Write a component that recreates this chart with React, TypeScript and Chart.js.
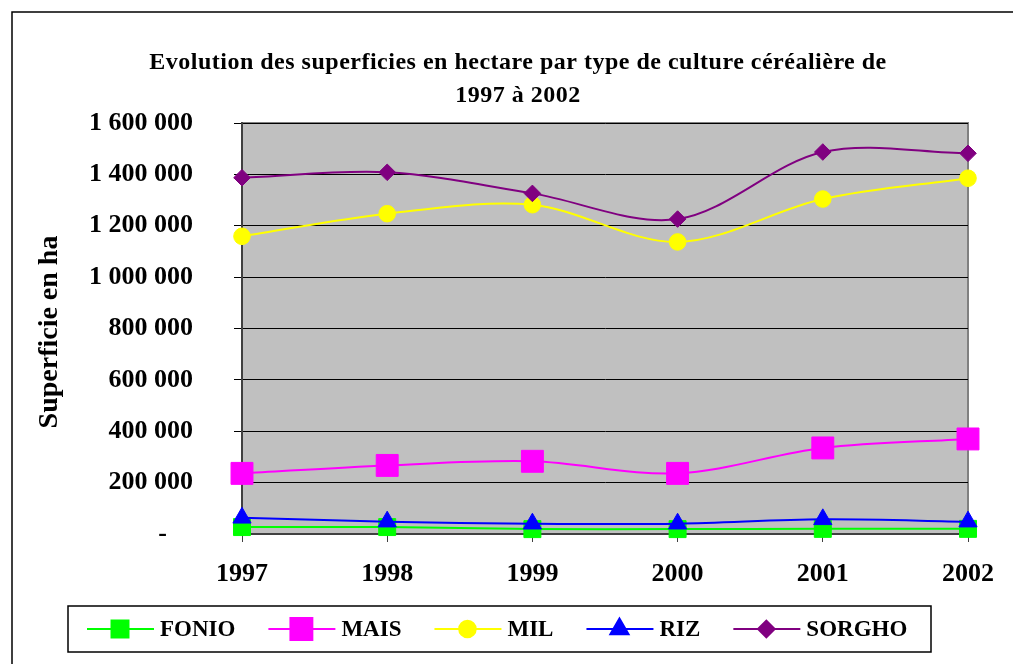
import React, { useEffect, useRef } from 'react';
import { Chart, registerables } from 'chart.js';
import { drawPoint } from 'chart.js/helpers';

Chart.register(...registerables);

const years = ['1997', '1998', '1999', '2000', '2001', '2002'];
const fonio = [27000, 27000, 19000, 19000, 20000, 20000];
const mais = [236000, 267000, 283000, 236000, 335000, 370000];
const mil = [1159000, 1247000, 1282000, 1137000, 1304000, 1385000];
const riz = [63000, 48000, 40000, 40000, 57000, 48000];
const sorgho = [1387000, 1408000, 1326000, 1226000, 1487000, 1482000];

const titleLines = ['Evolution des superficies en hectare par type de culture céréalière de', '1997 à 2002'];
const yTitle = 'Superficie en ha';

const FONT = "'Liberation Serif', 'Times New Roman', serif";

const fmt = (v: number) => {
  if (v === 0) return '-    ';
  return String(Math.round(v)).replace(/\B(?=(\d{3})+(?!\d))/g, ' ');
};

const series = [
  { label: 'FONIO', data: fonio, color: '#00ff00', style: 'rect', radius: 12, order: 5 },
  { label: 'MAIS', data: mais, color: '#ff00ff', style: 'rect', radius: 15.5, order: 4 },
  { label: 'MIL', data: mil, color: '#ffff00', style: 'circle', radius: 8.3, order: 3 },
  { label: 'RIZ', data: riz, color: '#0000ff', style: 'triangle', radius: 10.5, order: 2 },
  { label: 'SORGHO', data: sorgho, color: '#800080', style: 'rectRot', radius: 8.3, order: 1 },
];

const framePlugin = {
  id: 'frame',
  beforeDraw(chart: any) {
    const { ctx, chartArea: a } = chart;
    ctx.save();
    ctx.fillStyle = '#ffffff';
    ctx.fillRect(0, 0, chart.width, chart.height);
    ctx.strokeStyle = '#000';
    ctx.lineWidth = 1.5;
    ctx.beginPath();
    ctx.moveTo(12, chart.height + 5);
    ctx.lineTo(12, 12);
    ctx.lineTo(chart.width + 5, 12);
    ctx.stroke();
    ctx.fillStyle = '#c0c0c0';
    ctx.fillRect(a.left, a.top, a.width, a.height);
    ctx.strokeStyle = '#808080';
    ctx.lineWidth = 2;
    ctx.strokeRect(a.left, a.top, a.width, a.height);
    ctx.restore();
  },
  afterDraw(chart: any) {
    const { ctx } = chart;
    ctx.save();
    // title
    ctx.fillStyle = '#000';
    ctx.textAlign = 'center';
    ctx.textBaseline = 'alphabetic';
    ctx.font = `bold 24px ${FONT}`;
    (ctx as any).letterSpacing = '0.5px';
    ctx.fillText(titleLines[0], 518, 69);
    ctx.fillText(titleLines[1], 518, 102);
    (ctx as any).letterSpacing = '0px';
    // y title
    ctx.save();
    ctx.translate(57, 332);
    ctx.rotate(-Math.PI / 2);
    ctx.font = `bold 28px ${FONT}`;
    ctx.textAlign = 'center';
    ctx.textBaseline = 'alphabetic';
    ctx.fillText(yTitle, 0, 0);
    ctx.restore();
    // legend
    const lx = 68, ly = 606, lw = 863, lh = 46;
    ctx.strokeStyle = '#000';
    ctx.lineWidth = 1.5;
    ctx.strokeRect(lx, ly, lw, lh);
    ctx.font = `bold 23px ${FONT}`;
    ctx.textAlign = 'left';
    ctx.textBaseline = 'middle';
    let x = 87;
    const cy = 629;
    series.forEach((s) => {
      ctx.strokeStyle = s.color;
      ctx.lineWidth = 2;
      ctx.beginPath();
      ctx.moveTo(x, cy);
      ctx.lineTo(x + 67, cy);
      ctx.stroke();
      ctx.fillStyle = s.color;
      drawPoint(ctx, { pointStyle: s.style, radius: s.radius, rotation: 0, borderWidth: 1 }, x + 33, cy);
      ctx.fill();
      ctx.fillStyle = '#000';
      const tx = x + 73;
      ctx.fillText(s.label, tx, cy + 1);
      x = tx + ctx.measureText(s.label).width + 33;
    });
    ctx.restore();
  },
};

export default function App() {
  const ref = useRef<HTMLCanvasElement | null>(null);
  useEffect(() => {
    if (!ref.current) return;
    const chart = new Chart(ref.current, {
      type: 'line',
      data: {
        labels: years,
        datasets: series.map((s) => ({
          label: s.label,
          data: s.data,
          borderColor: s.color,
          backgroundColor: s.color,
          borderWidth: 2,
          tension: 0.33,
          pointStyle: s.style as any,
          pointRadius: s.radius,
          pointBorderWidth: 1,
          pointBorderColor: s.color,
          pointBackgroundColor: s.color,
          order: s.order,
          clip: false as any,
          fill: false,
        })),
      },
      options: {
        responsive: false,
        animation: false,
        layout: { padding: { left: 0, top: 123, right: 45, bottom: 0 } },
        plugins: {
          legend: { display: false },
          title: { display: false },
          tooltip: { enabled: false },
        },
        scales: {
          x: {
            type: 'category',
            offset: false,
            afterFit: (scale: any) => { scale.height = 130; },
            grid: { drawOnChartArea: false, drawTicks: true, tickLength: 8, color: '#404040', lineWidth: 1 },
            border: { color: '#404040', width: 2 },
            ticks: { color: '#000', font: { family: FONT, size: 26, weight: 'bold' }, padding: 17, maxRotation: 0 },
          },
          y: {
            min: 0,
            max: 1600000,
            afterFit: (scale: any) => { scale.width = 242; },
            grid: { color: '#000', lineWidth: 1, drawTicks: true, tickLength: 8, tickColor: '#000' },
            border: { color: '#404040', width: 2 },
            ticks: {
              stepSize: 200000,
              color: '#000',
              padding: 41,
              font: { family: FONT, size: 26, weight: 'bold' },
              callback: (v: any) => fmt(Number(v)),
            },
          },
        },
      },
      plugins: [framePlugin],
    });
    return () => chart.destroy();
  }, []);
  return (
    <div style={{ position: 'fixed', left: 0, top: 0, width: 1013, height: 664, background: '#fff' }}>
      <canvas ref={ref} width={1013} height={664} style={{ width: 1013, height: 664, display: 'block' }} />
    </div>
  );
}
